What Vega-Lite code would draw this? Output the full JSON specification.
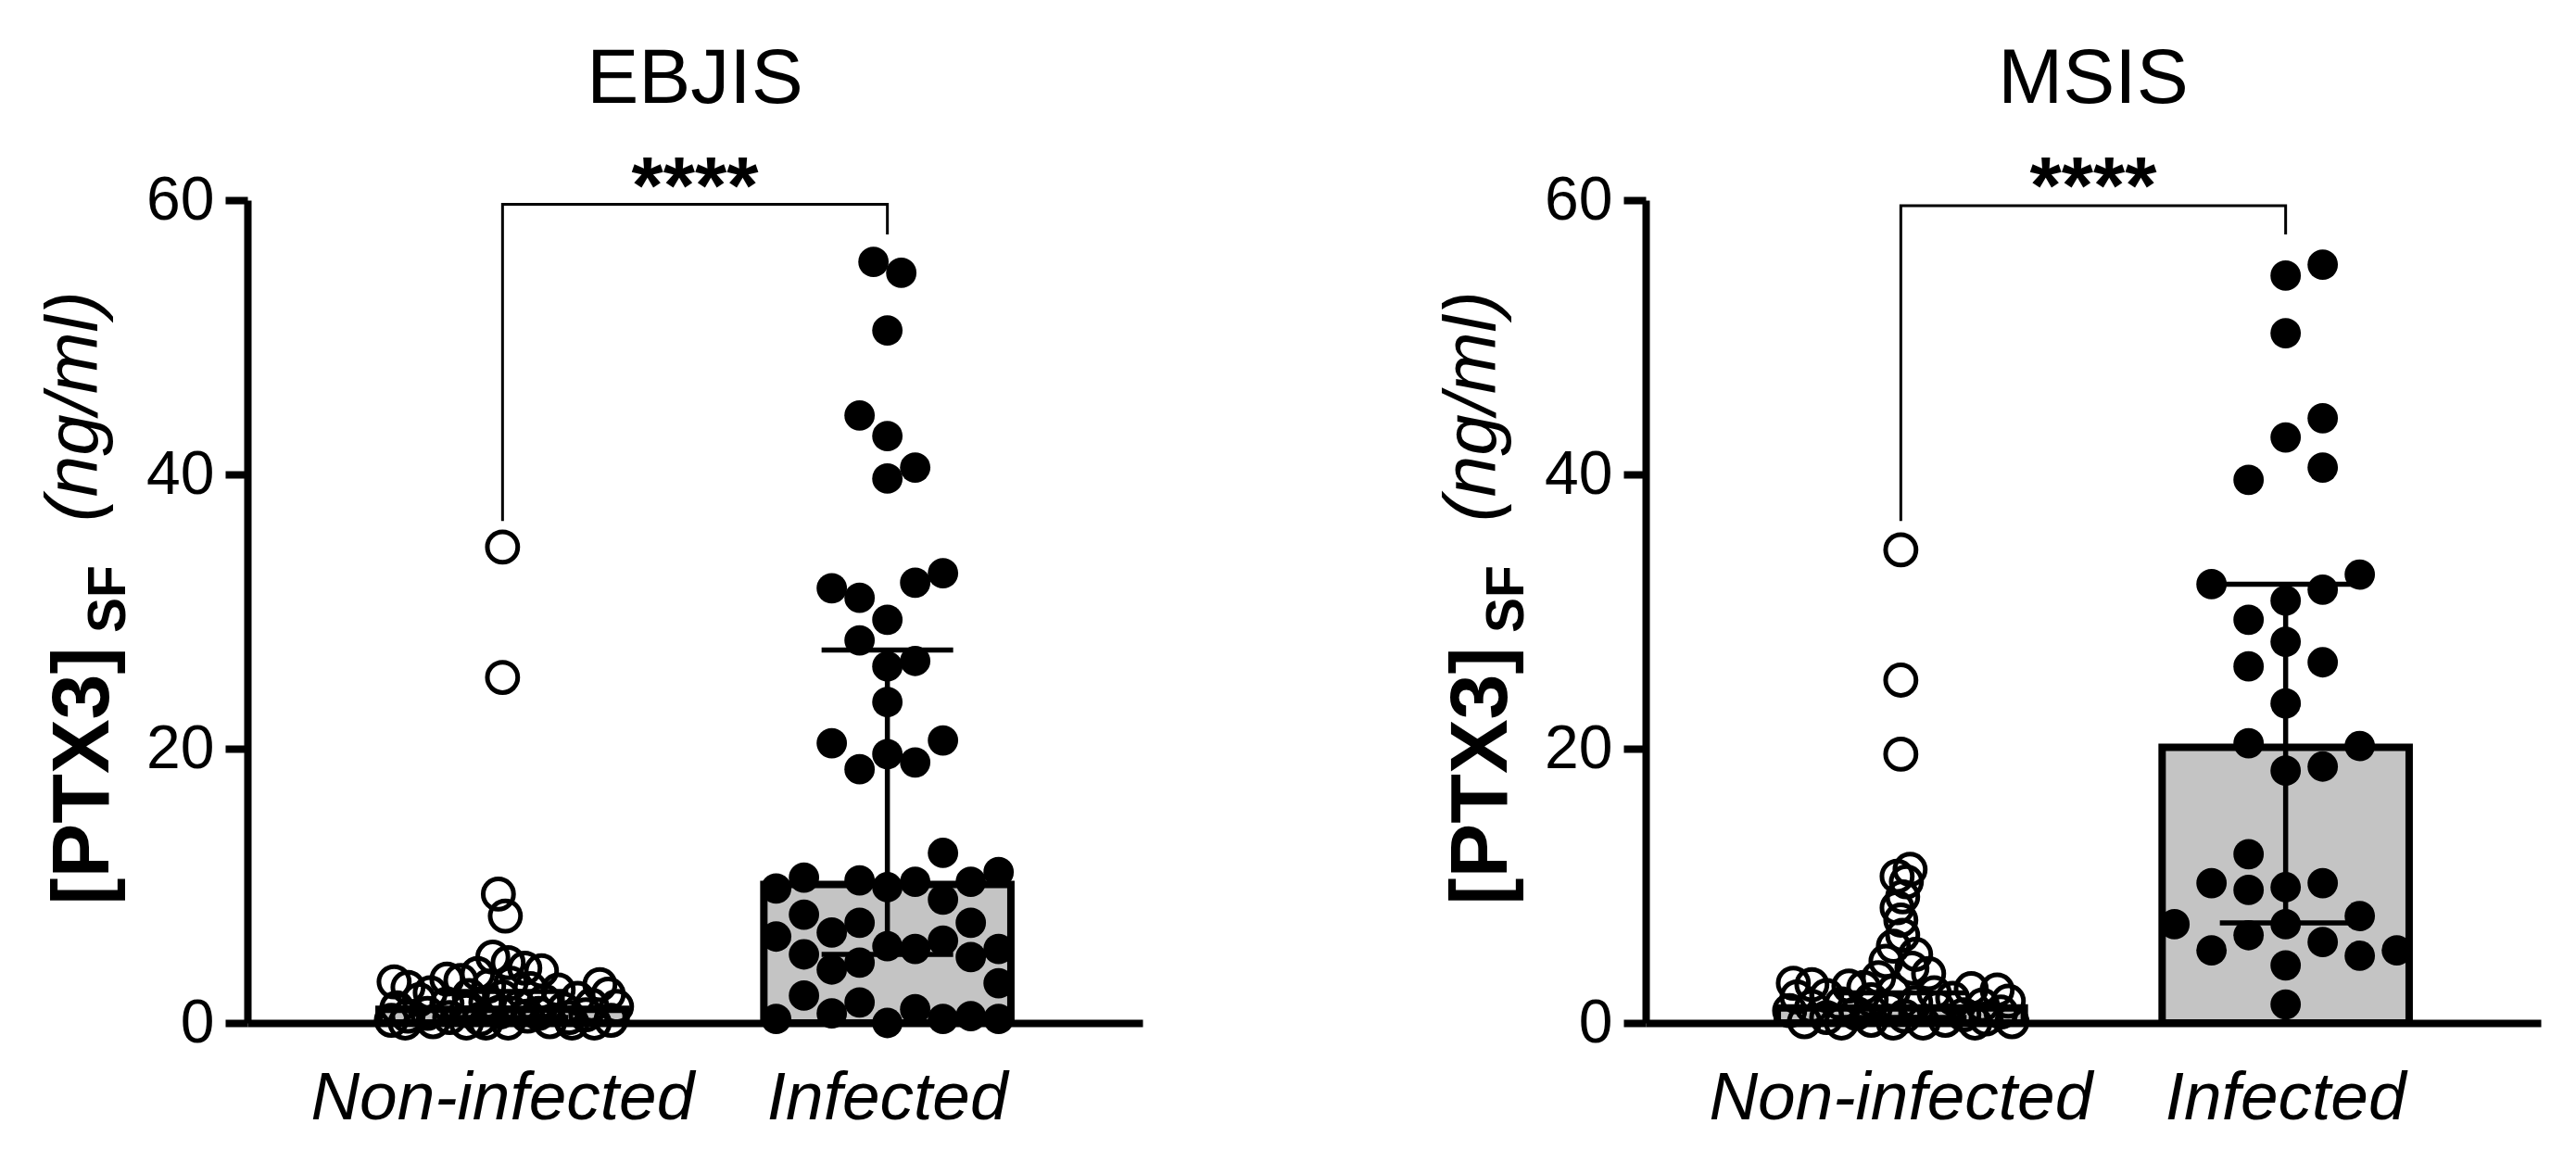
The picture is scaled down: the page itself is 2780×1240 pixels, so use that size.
{
  "$schema": "https://vega.github.io/schema/vega-lite/v6.json",
  "autosize": {"type": "none"},
  "padding": {"left": 267, "top": 216, "right": 2513, "bottom": 1024},
  "background": "white",
  "config": {"font": "Liberation Sans", "view": {"stroke": null}},
  "datasets": {
    "summary": [
      {"panel": "EBJIS", "group": "Non-infected", "median": 1.0, "q1": 0.4, "q3": 2.3},
      {"panel": "EBJIS", "group": "Infected", "median": 10.1, "q1": 5.0, "q3": 27.2},
      {"panel": "MSIS", "group": "Non-infected", "median": 1.1, "q1": 0.4, "q3": 2.2},
      {"panel": "MSIS", "group": "Infected", "median": 20.1, "q1": 7.3, "q3": 32.0}
    ],
    "bracket": [
      {"panel": "EBJIS", "group": "Non-infected", "val": 36.6, "step": 1},
      {"panel": "EBJIS", "group": "Non-infected", "val": 59.7, "step": 2},
      {"panel": "EBJIS", "group": "Infected", "val": 59.7, "step": 3},
      {"panel": "EBJIS", "group": "Infected", "val": 57.5, "step": 4},
      {"panel": "MSIS", "group": "Non-infected", "val": 36.6, "step": 1},
      {"panel": "MSIS", "group": "Non-infected", "val": 59.6, "step": 2},
      {"panel": "MSIS", "group": "Infected", "val": 59.6, "step": 3},
      {"panel": "MSIS", "group": "Infected", "val": 57.5, "step": 4}
    ],
    "pts": [
      {"panel": "EBJIS", "group": "Infected", "val": 55.5, "col": -0.5},
      {"panel": "EBJIS", "group": "Infected", "val": 54.7, "col": 0.5},
      {"panel": "EBJIS", "group": "Infected", "val": 50.5, "col": 0},
      {"panel": "EBJIS", "group": "Infected", "val": 44.3, "col": -1},
      {"panel": "EBJIS", "group": "Infected", "val": 42.8, "col": 0},
      {"panel": "EBJIS", "group": "Infected", "val": 40.5, "col": 1},
      {"panel": "EBJIS", "group": "Infected", "val": 39.7, "col": 0},
      {"panel": "EBJIS", "group": "Infected", "val": 31.7, "col": -2},
      {"panel": "EBJIS", "group": "Infected", "val": 31.0, "col": -1},
      {"panel": "EBJIS", "group": "Infected", "val": 32.1, "col": 1},
      {"panel": "EBJIS", "group": "Infected", "val": 32.8, "col": 2},
      {"panel": "EBJIS", "group": "Infected", "val": 29.4, "col": 0},
      {"panel": "EBJIS", "group": "Infected", "val": 27.9, "col": -1},
      {"panel": "EBJIS", "group": "Infected", "val": 26.0, "col": 0},
      {"panel": "EBJIS", "group": "Infected", "val": 26.4, "col": 1},
      {"panel": "EBJIS", "group": "Infected", "val": 23.4, "col": 0},
      {"panel": "EBJIS", "group": "Infected", "val": 20.4, "col": -2},
      {"panel": "EBJIS", "group": "Infected", "val": 20.6, "col": 2},
      {"panel": "EBJIS", "group": "Infected", "val": 18.5, "col": -1},
      {"panel": "EBJIS", "group": "Infected", "val": 19.6, "col": 0},
      {"panel": "EBJIS", "group": "Infected", "val": 19.0, "col": 1},
      {"panel": "EBJIS", "group": "Infected", "val": 12.4, "col": 2},
      {"panel": "EBJIS", "group": "Infected", "val": 9.8, "col": -4},
      {"panel": "EBJIS", "group": "Infected", "val": 10.6, "col": -3},
      {"panel": "EBJIS", "group": "Infected", "val": 10.4, "col": -1},
      {"panel": "EBJIS", "group": "Infected", "val": 9.9, "col": 0},
      {"panel": "EBJIS", "group": "Infected", "val": 10.3, "col": 1},
      {"panel": "EBJIS", "group": "Infected", "val": 9.0, "col": 2},
      {"panel": "EBJIS", "group": "Infected", "val": 10.3, "col": 3},
      {"panel": "EBJIS", "group": "Infected", "val": 11.0, "col": 4},
      {"panel": "EBJIS", "group": "Infected", "val": 7.9, "col": -3},
      {"panel": "EBJIS", "group": "Infected", "val": 6.6, "col": -2},
      {"panel": "EBJIS", "group": "Infected", "val": 7.3, "col": -1},
      {"panel": "EBJIS", "group": "Infected", "val": 7.3, "col": 3},
      {"panel": "EBJIS", "group": "Infected", "val": 6.3, "col": -4},
      {"panel": "EBJIS", "group": "Infected", "val": 5.0, "col": -3},
      {"panel": "EBJIS", "group": "Infected", "val": 3.9, "col": -2},
      {"panel": "EBJIS", "group": "Infected", "val": 4.4, "col": -1},
      {"panel": "EBJIS", "group": "Infected", "val": 5.6, "col": 0},
      {"panel": "EBJIS", "group": "Infected", "val": 5.4, "col": 1},
      {"panel": "EBJIS", "group": "Infected", "val": 6.0, "col": 2},
      {"panel": "EBJIS", "group": "Infected", "val": 4.8, "col": 3},
      {"panel": "EBJIS", "group": "Infected", "val": 5.4, "col": 4},
      {"panel": "EBJIS", "group": "Infected", "val": 2.9, "col": 4},
      {"panel": "EBJIS", "group": "Infected", "val": 2.0, "col": -3},
      {"panel": "EBJIS", "group": "Infected", "val": 1.5, "col": -1},
      {"panel": "EBJIS", "group": "Infected", "val": 0.3, "col": -4},
      {"panel": "EBJIS", "group": "Infected", "val": 0.7, "col": -2},
      {"panel": "EBJIS", "group": "Infected", "val": 0.0, "col": 0},
      {"panel": "EBJIS", "group": "Infected", "val": 1.0, "col": 1},
      {"panel": "EBJIS", "group": "Infected", "val": 0.3, "col": 2},
      {"panel": "EBJIS", "group": "Infected", "val": 0.5, "col": 3},
      {"panel": "EBJIS", "group": "Infected", "val": 0.3, "col": 4},

      {"panel": "EBJIS", "group": "Non-infected", "val": 34.7, "col": 0},
      {"panel": "EBJIS", "group": "Non-infected", "val": 25.2, "col": 0},
      {"panel": "EBJIS", "group": "Non-infected", "val": 9.4, "col": -0.15},
      {"panel": "EBJIS", "group": "Non-infected", "val": 7.8, "col": 0.1},
      {"panel": "EBJIS", "group": "Non-infected", "val": 4.8, "col": -0.35},
      {"panel": "EBJIS", "group": "Non-infected", "val": 4.4, "col": 0.2},
      {"panel": "EBJIS", "group": "Non-infected", "val": 4.0, "col": 0.8},
      {"panel": "EBJIS", "group": "Non-infected", "val": 3.8, "col": 1.4},
      {"panel": "EBJIS", "group": "Non-infected", "val": 3.6, "col": -0.9},
      {"panel": "EBJIS", "group": "Non-infected", "val": 3.2, "col": -2.0},
      {"panel": "EBJIS", "group": "Non-infected", "val": 3.1, "col": -1.5},
      {"panel": "EBJIS", "group": "Non-infected", "val": 3.0, "col": -3.9},
      {"panel": "EBJIS", "group": "Non-infected", "val": 2.9, "col": 0.3},
      {"panel": "EBJIS", "group": "Non-infected", "val": 2.8, "col": 3.5},
      {"panel": "EBJIS", "group": "Non-infected", "val": 2.7, "col": -0.5},
      {"panel": "EBJIS", "group": "Non-infected", "val": 2.6, "col": -3.4},
      {"panel": "EBJIS", "group": "Non-infected", "val": 2.5, "col": 1.0},
      {"panel": "EBJIS", "group": "Non-infected", "val": 2.4, "col": 2.0},
      {"panel": "EBJIS", "group": "Non-infected", "val": 2.2, "col": -2.6},
      {"panel": "EBJIS", "group": "Non-infected", "val": 2.1, "col": 3.8},
      {"panel": "EBJIS", "group": "Non-infected", "val": 2.0, "col": -1.2},
      {"panel": "EBJIS", "group": "Non-infected", "val": 1.9, "col": 0.0},
      {"panel": "EBJIS", "group": "Non-infected", "val": 1.8, "col": 2.7},
      {"panel": "EBJIS", "group": "Non-infected", "val": 1.7, "col": -3.0},
      {"panel": "EBJIS", "group": "Non-infected", "val": 1.6, "col": 1.5},
      {"panel": "EBJIS", "group": "Non-infected", "val": 1.5, "col": -0.6},
      {"panel": "EBJIS", "group": "Non-infected", "val": 1.4, "col": -2.0},
      {"panel": "EBJIS", "group": "Non-infected", "val": 1.3, "col": 3.2},
      {"panel": "EBJIS", "group": "Non-infected", "val": 1.2, "col": 4.1},
      {"panel": "EBJIS", "group": "Non-infected", "val": 1.2, "col": 0.6},
      {"panel": "EBJIS", "group": "Non-infected", "val": 1.1, "col": -3.8},
      {"panel": "EBJIS", "group": "Non-infected", "val": 1.0, "col": 2.2},
      {"panel": "EBJIS", "group": "Non-infected", "val": 0.9, "col": -1.3},
      {"panel": "EBJIS", "group": "Non-infected", "val": 0.8, "col": -0.1},
      {"panel": "EBJIS", "group": "Non-infected", "val": 0.7, "col": 1.3},
      {"panel": "EBJIS", "group": "Non-infected", "val": 0.7, "col": -2.7},
      {"panel": "EBJIS", "group": "Non-infected", "val": 0.6, "col": 3.0},
      {"panel": "EBJIS", "group": "Non-infected", "val": 0.5, "col": -3.4},
      {"panel": "EBJIS", "group": "Non-infected", "val": 0.5, "col": 0.9},
      {"panel": "EBJIS", "group": "Non-infected", "val": 0.4, "col": -1.9},
      {"panel": "EBJIS", "group": "Non-infected", "val": 0.4, "col": 2.4},
      {"panel": "EBJIS", "group": "Non-infected", "val": 0.3, "col": -0.8},
      {"panel": "EBJIS", "group": "Non-infected", "val": 0.2, "col": 3.9},
      {"panel": "EBJIS", "group": "Non-infected", "val": 0.2, "col": -4.0},
      {"panel": "EBJIS", "group": "Non-infected", "val": 0.1, "col": 1.7},
      {"panel": "EBJIS", "group": "Non-infected", "val": 0.1, "col": -2.5},
      {"panel": "EBJIS", "group": "Non-infected", "val": 0.0, "col": 0.2},
      {"panel": "EBJIS", "group": "Non-infected", "val": 0.0, "col": -1.3},
      {"panel": "EBJIS", "group": "Non-infected", "val": 0.0, "col": 3.3},
      {"panel": "EBJIS", "group": "Non-infected", "val": 0.0, "col": -3.5},
      {"panel": "EBJIS", "group": "Non-infected", "val": 0.0, "col": 2.5},
      {"panel": "EBJIS", "group": "Non-infected", "val": 0.0, "col": -0.6},

      {"panel": "MSIS", "group": "Infected", "val": 54.5, "col": 0},
      {"panel": "MSIS", "group": "Infected", "val": 55.3, "col": 1},
      {"panel": "MSIS", "group": "Infected", "val": 50.3, "col": 0},
      {"panel": "MSIS", "group": "Infected", "val": 44.1, "col": 1},
      {"panel": "MSIS", "group": "Infected", "val": 42.7, "col": 0},
      {"panel": "MSIS", "group": "Infected", "val": 40.5, "col": 1},
      {"panel": "MSIS", "group": "Infected", "val": 39.6, "col": -1},
      {"panel": "MSIS", "group": "Infected", "val": 32.0, "col": -2},
      {"panel": "MSIS", "group": "Infected", "val": 32.7, "col": 2},
      {"panel": "MSIS", "group": "Infected", "val": 31.6, "col": 1},
      {"panel": "MSIS", "group": "Infected", "val": 30.8, "col": 0},
      {"panel": "MSIS", "group": "Infected", "val": 29.4, "col": -1},
      {"panel": "MSIS", "group": "Infected", "val": 27.8, "col": 0},
      {"panel": "MSIS", "group": "Infected", "val": 26.0, "col": -1},
      {"panel": "MSIS", "group": "Infected", "val": 26.3, "col": 1},
      {"panel": "MSIS", "group": "Infected", "val": 23.3, "col": 0},
      {"panel": "MSIS", "group": "Infected", "val": 20.4, "col": -1},
      {"panel": "MSIS", "group": "Infected", "val": 20.2, "col": 2},
      {"panel": "MSIS", "group": "Infected", "val": 18.4, "col": 0},
      {"panel": "MSIS", "group": "Infected", "val": 18.7, "col": 1},
      {"panel": "MSIS", "group": "Infected", "val": 12.3, "col": -1},
      {"panel": "MSIS", "group": "Infected", "val": 10.2, "col": -2},
      {"panel": "MSIS", "group": "Infected", "val": 9.7, "col": -1},
      {"panel": "MSIS", "group": "Infected", "val": 9.9, "col": 0},
      {"panel": "MSIS", "group": "Infected", "val": 10.2, "col": 1},
      {"panel": "MSIS", "group": "Infected", "val": 7.2, "col": -3},
      {"panel": "MSIS", "group": "Infected", "val": 6.4, "col": -1},
      {"panel": "MSIS", "group": "Infected", "val": 7.2, "col": 0},
      {"panel": "MSIS", "group": "Infected", "val": 7.8, "col": 2},
      {"panel": "MSIS", "group": "Infected", "val": 5.3, "col": -2},
      {"panel": "MSIS", "group": "Infected", "val": 5.9, "col": 1},
      {"panel": "MSIS", "group": "Infected", "val": 4.9, "col": 2},
      {"panel": "MSIS", "group": "Infected", "val": 5.3, "col": 3},
      {"panel": "MSIS", "group": "Infected", "val": 4.2, "col": 0},
      {"panel": "MSIS", "group": "Infected", "val": 1.35, "col": 0},

      {"panel": "MSIS", "group": "Non-infected", "val": 34.5, "col": 0},
      {"panel": "MSIS", "group": "Non-infected", "val": 25.0, "col": 0},
      {"panel": "MSIS", "group": "Non-infected", "val": 19.6, "col": 0},
      {"panel": "MSIS", "group": "Non-infected", "val": 11.2, "col": 0.25},
      {"panel": "MSIS", "group": "Non-infected", "val": 10.7, "col": -0.1},
      {"panel": "MSIS", "group": "Non-infected", "val": 10.3, "col": 0.15},
      {"panel": "MSIS", "group": "Non-infected", "val": 9.2, "col": 0.05},
      {"panel": "MSIS", "group": "Non-infected", "val": 8.4, "col": -0.1},
      {"panel": "MSIS", "group": "Non-infected", "val": 7.5, "col": 0.0},
      {"panel": "MSIS", "group": "Non-infected", "val": 6.4, "col": 0.05},
      {"panel": "MSIS", "group": "Non-infected", "val": 5.6, "col": -0.2},
      {"panel": "MSIS", "group": "Non-infected", "val": 5.0, "col": 0.4},
      {"panel": "MSIS", "group": "Non-infected", "val": 4.5, "col": -0.4},
      {"panel": "MSIS", "group": "Non-infected", "val": 4.0, "col": 0.3},
      {"panel": "MSIS", "group": "Non-infected", "val": 3.6, "col": 0.75},
      {"panel": "MSIS", "group": "Non-infected", "val": 3.3, "col": -0.6},
      {"panel": "MSIS", "group": "Non-infected", "val": 2.9, "col": -2.9},
      {"panel": "MSIS", "group": "Non-infected", "val": 2.8, "col": -2.4},
      {"panel": "MSIS", "group": "Non-infected", "val": 2.7, "col": -1.4},
      {"panel": "MSIS", "group": "Non-infected", "val": 2.6, "col": -1.0},
      {"panel": "MSIS", "group": "Non-infected", "val": 2.5, "col": 1.9},
      {"panel": "MSIS", "group": "Non-infected", "val": 2.4, "col": 2.6},
      {"panel": "MSIS", "group": "Non-infected", "val": 2.3, "col": -0.2},
      {"panel": "MSIS", "group": "Non-infected", "val": 2.2, "col": 0.9},
      {"panel": "MSIS", "group": "Non-infected", "val": 2.0, "col": -2.0},
      {"panel": "MSIS", "group": "Non-infected", "val": 1.9, "col": -2.8},
      {"panel": "MSIS", "group": "Non-infected", "val": 1.8, "col": 1.4},
      {"panel": "MSIS", "group": "Non-infected", "val": 1.7, "col": -0.8},
      {"panel": "MSIS", "group": "Non-infected", "val": 1.6, "col": 2.9},
      {"panel": "MSIS", "group": "Non-infected", "val": 1.5, "col": 0.4},
      {"panel": "MSIS", "group": "Non-infected", "val": 1.4, "col": -1.6},
      {"panel": "MSIS", "group": "Non-infected", "val": 1.3, "col": 2.2},
      {"panel": "MSIS", "group": "Non-infected", "val": 1.2, "col": -2.4},
      {"panel": "MSIS", "group": "Non-infected", "val": 1.1, "col": 1.0},
      {"panel": "MSIS", "group": "Non-infected", "val": 1.0, "col": -0.3},
      {"panel": "MSIS", "group": "Non-infected", "val": 0.9, "col": -3.0},
      {"panel": "MSIS", "group": "Non-infected", "val": 0.8, "col": 2.7},
      {"panel": "MSIS", "group": "Non-infected", "val": 0.7, "col": -1.2},
      {"panel": "MSIS", "group": "Non-infected", "val": 0.6, "col": 1.7},
      {"panel": "MSIS", "group": "Non-infected", "val": 0.5, "col": 0.1},
      {"panel": "MSIS", "group": "Non-infected", "val": 0.4, "col": -2.0},
      {"panel": "MSIS", "group": "Non-infected", "val": 0.3, "col": 2.3},
      {"panel": "MSIS", "group": "Non-infected", "val": 0.2, "col": -0.8},
      {"panel": "MSIS", "group": "Non-infected", "val": 0.2, "col": 1.2},
      {"panel": "MSIS", "group": "Non-infected", "val": 0.1, "col": -2.6},
      {"panel": "MSIS", "group": "Non-infected", "val": 0.1, "col": 3.0},
      {"panel": "MSIS", "group": "Non-infected", "val": 0.0, "col": -1.6},
      {"panel": "MSIS", "group": "Non-infected", "val": 0.0, "col": 0.6},
      {"panel": "MSIS", "group": "Non-infected", "val": 0.0, "col": 2.0},
      {"panel": "MSIS", "group": "Non-infected", "val": 0.0, "col": -0.2}
    ]
  },
  "spacing": 543,
  "bounds": "flush",
  "resolve": {"scale": {"xOffset": "independent", "x": "independent"}},
  "hconcat": [
    {
      "width": 966,
      "height": 888,
      "title": {"text": "EBJIS", "subtitle": "****", "anchor": "middle", "frame": "group", "font": "Liberation Sans", "fontSize": 84, "fontWeight": "normal", "color": "black", "subtitleFont": "Liberation Sans", "subtitleFontSize": 88, "subtitleFontWeight": "bold", "subtitleColor": "black", "subtitlePadding": 31, "offset": -66},
      "encoding": {
        "x": {"field": "group", "type": "nominal", "sort": ["Non-infected", "Infected"],
          "scale": {"type": "band", "domain": ["Non-infected", "Infected"], "paddingInner": 0.358, "paddingOuter": 0.342},
          "axis": {"title": null, "labelFont": "Liberation Sans", "labelFontSize": 73, "labelFontStyle": "italic", "labelAngle": 0, "labelLimit": 0, "ticks": false, "tickSize": 0, "labelPadding": 103, "labelBaseline": "alphabetic", "domainWidth": 8, "domainColor": "black", "labelColor": "black", "grid": false}}
      },
      "layer": [
        {"data": {"name": "summary"}, "transform": [{"filter": "datum.panel === 'EBJIS'"}],
         "mark": {"type": "bar", "fill": "#c4c4c4", "stroke": "black", "strokeWidth": 8, "width": 266.6},
         "encoding": {"y": {"field": "median", "type": "quantitative", "scale": {"domain": [0, 60], "nice": false},
           "axis": {"title": "[PTX3]", "orient": "left", "values": [0, 20, 40, 60], "grid": false, "tickSize": 24, "tickWidth": 8, "tickColor": "black", "domainWidth": 8, "domainColor": "black", "labelFont": "Liberation Sans", "labelFontSize": 66, "labelColor": "black", "labelPadding": 12, "titleFont": "Liberation Sans", "titleFontSize": 88, "titleFontWeight": "bold", "titleColor": "black", "titleAngle": 270, "titleX": -151, "titleY": 621, "titleAlign": "center", "titleBaseline": "alphabetic"}}}},
        {"data": {"name": "summary"}, "transform": [{"filter": "datum.panel === 'EBJIS'"}],
         "mark": {"type": "rule", "color": "black", "strokeWidth": 5.5},
         "encoding": {"y": {"field": "q1", "type": "quantitative", "scale": {"domain": [0, 60], "nice": false},
           "axis": {"title": "(ng/ml)", "orient": "left", "labels": false, "ticks": false, "domain": false, "grid": false, "titleFont": "Liberation Sans", "titleFontSize": 80, "titleFontStyle": "italic", "titleFontWeight": "normal", "titleColor": "black", "titleAngle": 270, "titleX": -163, "titleY": 222, "titleAlign": "center", "titleBaseline": "alphabetic"}},
           "y2": {"field": "q3"}}},
        {"data": {"name": "summary"}, "transform": [{"filter": "datum.panel === 'EBJIS'"}, {"fold": ["q1", "q3"], "as": ["stat", "val"]}],
         "mark": {"type": "tick", "color": "black", "thickness": 5.5, "size": 142, "opacity": 1},
         "encoding": {"y": {"field": "val", "type": "quantitative", "scale": {"domain": [0, 60], "nice": false},
           "axis": {"title": "SF", "orient": "left", "labels": false, "ticks": false, "domain": false, "grid": false, "titleFont": "Liberation Sans", "titleFontSize": 57, "titleFontWeight": "bold", "titleColor": "black", "titleAngle": 270, "titleX": -133, "titleY": 430, "titleAlign": "center", "titleBaseline": "alphabetic"}}}},
        {"data": {"name": "pts"}, "transform": [{"filter": "datum.panel === 'EBJIS' && datum.group === 'Non-infected'"}],
         "mark": {"type": "point", "shape": "circle", "filled": false, "color": "black", "stroke": "black", "strokeWidth": 5, "size": 1075, "opacity": 1},
         "encoding": {"y": {"field": "val", "type": "quantitative", "scale": {"domain": [0, 60], "nice": false}, "axis": null},
           "xOffset": {"field": "col", "type": "quantitative", "scale": {"domain": [-4.443, 4.443], "nice": false, "zero": false}}}},
        {"data": {"name": "pts"}, "transform": [{"filter": "datum.panel === 'EBJIS' && datum.group === 'Infected'"}],
         "mark": {"type": "circle", "color": "black", "fill": "black", "strokeWidth": 0, "size": 1075, "opacity": 1},
         "encoding": {"y": {"field": "val", "type": "quantitative", "scale": {"domain": [0, 60], "nice": false}, "axis": null},
           "xOffset": {"field": "col", "type": "quantitative", "scale": {"domain": [-4.443, 4.443], "nice": false, "zero": false}}}},
        {"data": {"name": "bracket"}, "transform": [{"filter": "datum.panel === 'EBJIS'"}],
         "mark": {"type": "line", "color": "black", "strokeWidth": 3},
         "encoding": {"y": {"field": "val", "type": "quantitative", "scale": {"domain": [0, 60], "nice": false}, "axis": null},
           "order": {"field": "step", "type": "quantitative"}}}
      ],
      "resolve": {"scale": {"y": "independent"}}
    },
    {
      "width": 966,
      "height": 888,
      "title": {"text": "MSIS", "subtitle": "****", "anchor": "middle", "frame": "group", "font": "Liberation Sans", "fontSize": 84, "fontWeight": "normal", "color": "black", "subtitleFont": "Liberation Sans", "subtitleFontSize": 88, "subtitleFontWeight": "bold", "subtitleColor": "black", "subtitlePadding": 31, "offset": -66},
      "encoding": {
        "x": {"field": "group", "type": "nominal", "sort": ["Non-infected", "Infected"],
          "scale": {"type": "band", "domain": ["Non-infected", "Infected"], "paddingInner": 0.358, "paddingOuter": 0.342},
          "axis": {"title": null, "labelFont": "Liberation Sans", "labelFontSize": 73, "labelFontStyle": "italic", "labelAngle": 0, "labelLimit": 0, "ticks": false, "tickSize": 0, "labelPadding": 103, "labelBaseline": "alphabetic", "domainWidth": 8, "domainColor": "black", "labelColor": "black", "grid": false}}
      },
      "layer": [
        {"data": {"name": "summary"}, "transform": [{"filter": "datum.panel === 'MSIS'"}],
         "mark": {"type": "bar", "fill": "#c4c4c4", "stroke": "black", "strokeWidth": 8, "width": 266.6},
         "encoding": {"y": {"field": "median", "type": "quantitative", "scale": {"domain": [0, 60], "nice": false},
           "axis": {"title": "[PTX3]", "orient": "left", "values": [0, 20, 40, 60], "grid": false, "tickSize": 24, "tickWidth": 8, "tickColor": "black", "domainWidth": 8, "domainColor": "black", "labelFont": "Liberation Sans", "labelFontSize": 66, "labelColor": "black", "labelPadding": 12, "titleFont": "Liberation Sans", "titleFontSize": 88, "titleFontWeight": "bold", "titleColor": "black", "titleAngle": 270, "titleX": -151, "titleY": 621, "titleAlign": "center", "titleBaseline": "alphabetic"}}}},
        {"data": {"name": "summary"}, "transform": [{"filter": "datum.panel === 'MSIS'"}],
         "mark": {"type": "rule", "color": "black", "strokeWidth": 5.5},
         "encoding": {"y": {"field": "q1", "type": "quantitative", "scale": {"domain": [0, 60], "nice": false},
           "axis": {"title": "(ng/ml)", "orient": "left", "labels": false, "ticks": false, "domain": false, "grid": false, "titleFont": "Liberation Sans", "titleFontSize": 80, "titleFontStyle": "italic", "titleFontWeight": "normal", "titleColor": "black", "titleAngle": 270, "titleX": -163, "titleY": 222, "titleAlign": "center", "titleBaseline": "alphabetic"}},
           "y2": {"field": "q3"}}},
        {"data": {"name": "summary"}, "transform": [{"filter": "datum.panel === 'MSIS'"}, {"fold": ["q1", "q3"], "as": ["stat", "val"]}],
         "mark": {"type": "tick", "color": "black", "thickness": 5.5, "size": 142, "opacity": 1},
         "encoding": {"y": {"field": "val", "type": "quantitative", "scale": {"domain": [0, 60], "nice": false},
           "axis": {"title": "SF", "orient": "left", "labels": false, "ticks": false, "domain": false, "grid": false, "titleFont": "Liberation Sans", "titleFontSize": 57, "titleFontWeight": "bold", "titleColor": "black", "titleAngle": 270, "titleX": -133, "titleY": 430, "titleAlign": "center", "titleBaseline": "alphabetic"}}}},
        {"data": {"name": "pts"}, "transform": [{"filter": "datum.panel === 'MSIS' && datum.group === 'Non-infected'"}],
         "mark": {"type": "point", "shape": "circle", "filled": false, "color": "black", "stroke": "black", "strokeWidth": 5, "size": 1075, "opacity": 1},
         "encoding": {"y": {"field": "val", "type": "quantitative", "scale": {"domain": [0, 60], "nice": false}, "axis": null},
           "xOffset": {"field": "col", "type": "quantitative", "scale": {"domain": [-3.333, 3.333], "nice": false, "zero": false}}}},
        {"data": {"name": "pts"}, "transform": [{"filter": "datum.panel === 'MSIS' && datum.group === 'Infected'"}],
         "mark": {"type": "circle", "color": "black", "fill": "black", "strokeWidth": 0, "size": 1075, "opacity": 1},
         "encoding": {"y": {"field": "val", "type": "quantitative", "scale": {"domain": [0, 60], "nice": false}, "axis": null},
           "xOffset": {"field": "col", "type": "quantitative", "scale": {"domain": [-3.333, 3.333], "nice": false, "zero": false}}}},
        {"data": {"name": "bracket"}, "transform": [{"filter": "datum.panel === 'MSIS'"}],
         "mark": {"type": "line", "color": "black", "strokeWidth": 3},
         "encoding": {"y": {"field": "val", "type": "quantitative", "scale": {"domain": [0, 60], "nice": false}, "axis": null},
           "order": {"field": "step", "type": "quantitative"}}}
      ],
      "resolve": {"scale": {"y": "independent"}}
    }
  ]
}
